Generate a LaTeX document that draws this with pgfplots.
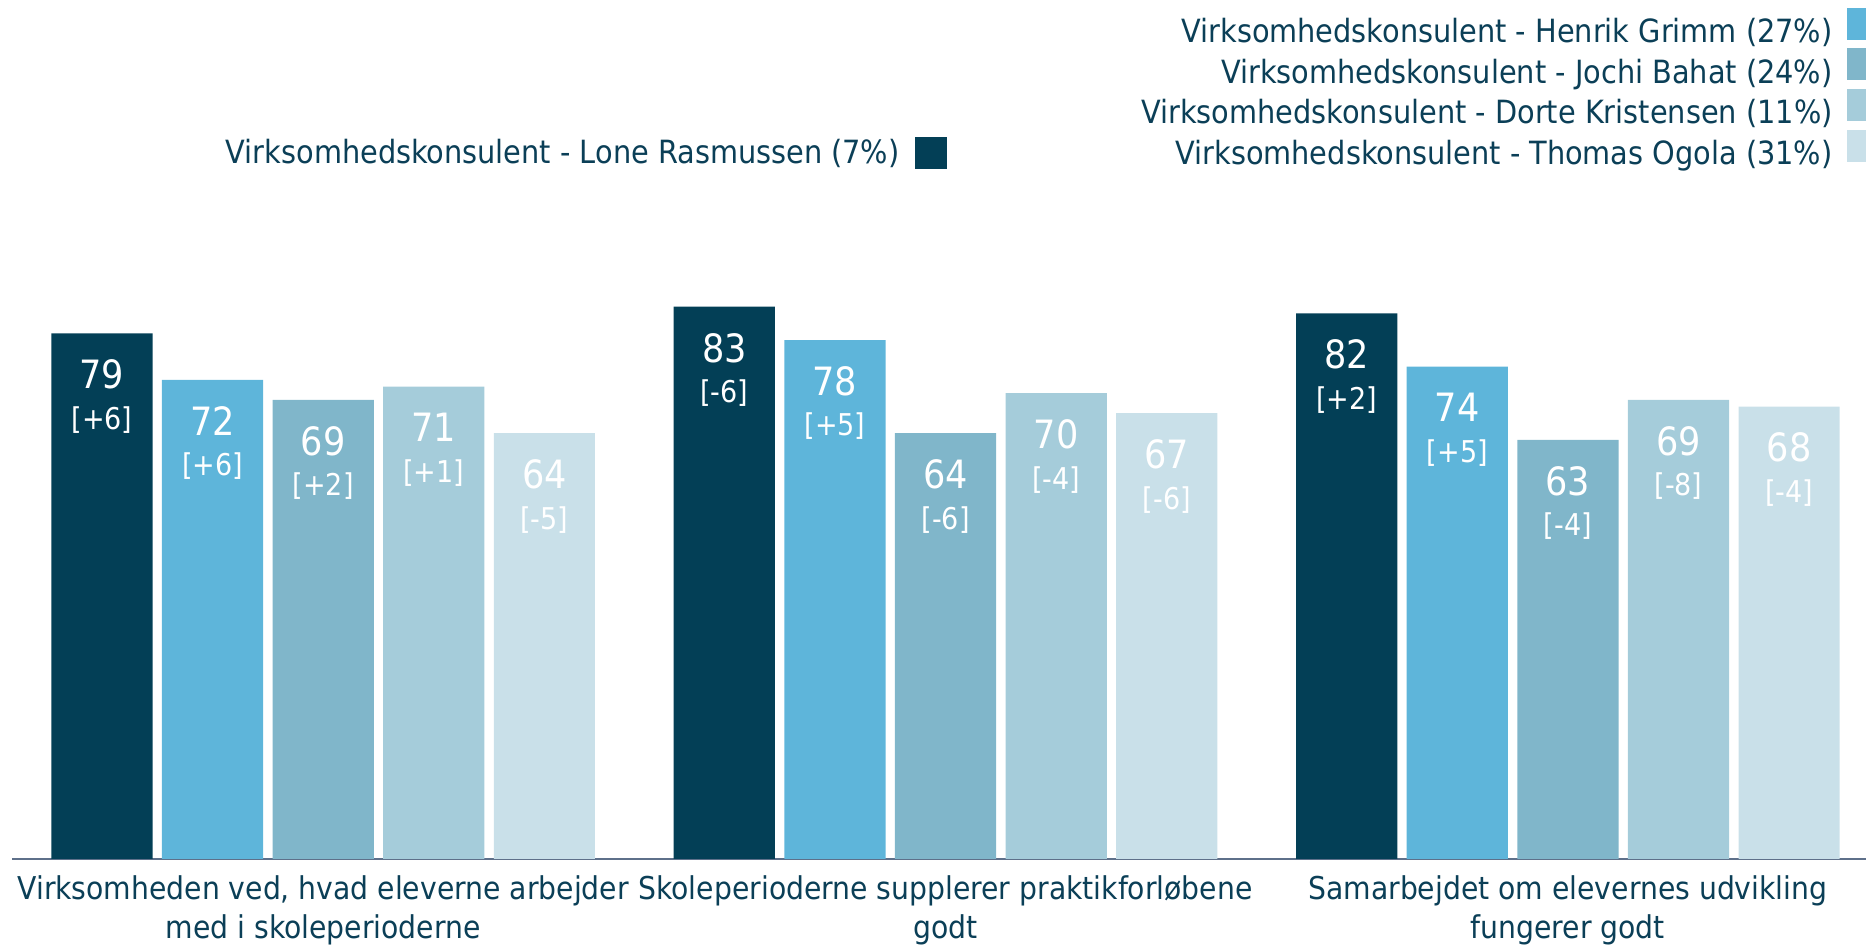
\documentclass[border=0pt]{standalone}
\usepackage{fontspec}
\setmainfont{DejaVu Sans Condensed}
\usepackage{pgfplots}
\usepackage{pgfplotstable}
\pgfplotsset{compat=1.18}
\definecolor{txt}{HTML}{0B3F57}
\definecolor{axc}{HTML}{5E708A}
\definecolor{c1}{HTML}{033F56}
\definecolor{c2}{HTML}{5EB5DA}
\definecolor{c3}{HTML}{80B6CA}
\definecolor{c4}{HTML}{A5CCDA}
\definecolor{c5}{HTML}{C9E0E9}

% x = question, y = score, d = change
\pgfplotstableread{
x y d
0 79 +6
1 83 -6
2 82 +2
}\lone
\pgfplotstableread{
x y d
0 72 +6
1 78 +5
2 74 +5
}\henrik
\pgfplotstableread{
x y d
0 69 +2
1 64 -6
2 63 -4
}\jochi
\pgfplotstableread{
x y d
0 71 +1
1 70 -4
2 69 -8
}\dorte
\pgfplotstableread{
x y d
0 64 -5
1 67 -6
2 68 -4
}\thomas

\begin{document}
\begin{tikzpicture}
\begin{axis}[
  at={(0,0)}, anchor=south west,
  scale only axis, width=927pt, height=429.5pt,
  xmin=-0.5, xmax=2.479, ymin=0, ymax=129.1,
  ybar, bar width=50.6pt,
  hide y axis, axis x line*=bottom,
  x axis line style={draw=axc, line width=1pt},
  xtick={0,1,2}, major tick length=0pt,
  xticklabels={{Virksomheden ved, hvad eleverne arbejder\\med i skoleperioderne},
               {Skoleperioderne supplerer praktikforløbene\\godt},
               {Samarbejdet om elevernes udvikling\\fungerer godt}},
  xticklabel style={align=center, font=\fontsize{15.7}{19.5}\selectfont, text=txt,
                    anchor=north, inner sep=0pt, yshift=-8pt},
  legend image code/.code={\fill[#1] (0pt,-4pt) rectangle (16pt,12pt);},
  legend plot pos=right,
  legend cell align=right,
  legend style={at={(1.0070,0.9916)}, anchor=north east, draw=none, fill=none,
                inner sep=0pt, font=\fontsize{16}{19}\selectfont, text=txt,
                nodes={inner sep=0pt}, row sep=1.6pt, column sep=7pt},
  clip=false,
  /pgf/number format/assume math mode=true,
  point meta=explicit symbolic,
  visualization depends on={rawy \as \yv},
  nodes near coords={{\fontsize{19.5}{19.5}\selectfont\pgfmathprintnumber{\yv}}\\{\fontsize{15}{15}\selectfont[\pgfplotspointmeta]}},
  nodes near coords align={below},
  every node near coord/.append style={align=center, text=white, inner sep=0pt,
                                       yshift=-13pt, font=\fontsize{15}{20.3}\selectfont},
]
\addplot[fill=c1, draw=none, bar shift=-110.6pt, forget plot] table[x=x,y=y,meta=d]{\lone};
\addplot[fill=c2, draw=none, bar shift=-55.3pt] table[x=x,y=y,meta=d]{\henrik};
\addlegendentry{Virksomhedskonsulent - Henrik Grimm (27\%)}
\addplot[fill=c3, draw=none, bar shift=0pt] table[x=x,y=y,meta=d]{\jochi};
\addlegendentry{Virksomhedskonsulent - Jochi Bahat (24\%)}
\addplot[fill=c4, draw=none, bar shift=55.3pt] table[x=x,y=y,meta=d]{\dorte};
\addlegendentry{Virksomhedskonsulent - Dorte Kristensen (11\%)}
\addplot[fill=c5, draw=none, bar shift=110.6pt] table[x=x,y=y,meta=d]{\thomas};
\addlegendentry{Virksomhedskonsulent - Thomas Ogola (31\%)}
\end{axis}
\node[anchor=east, font=\fontsize{16}{19}\selectfont, text=txt, inner sep=0pt]
  at (444pt,352.8pt) {Virksomhedskonsulent - Lone Rasmussen (7\%)};
\fill[c1] (451.5pt,344.8pt) rectangle (467.5pt,360.8pt);
\pgfresetboundingbox
\path[use as bounding box] (-6pt,-43.5pt) rectangle (927pt,429.5pt);
\end{tikzpicture}
\end{document}
